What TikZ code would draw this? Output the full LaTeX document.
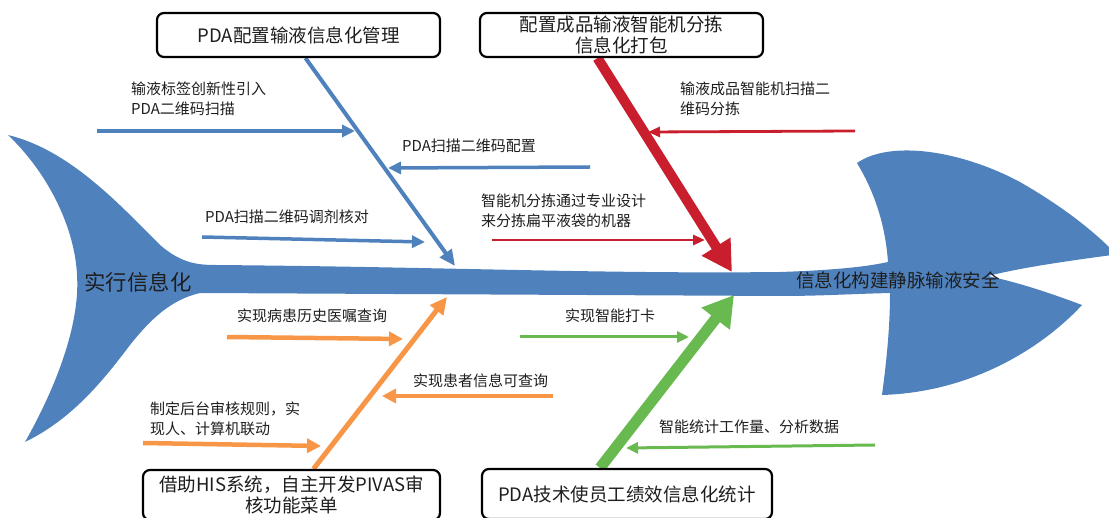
\documentclass[tikz,border=0pt]{standalone}
\usepackage{fontspec}
\setmainfont{Noto Sans CJK SC}
\usetikzlibrary{arrows.meta,backgrounds}
\definecolor{fishblue}{RGB}{79,129,189}
\definecolor{bonered}{RGB}{200,30,46}
\definecolor{boneorange}{RGB}{247,150,70}
\definecolor{bonegreen}{RGB}{104,186,80}
\definecolor{txt}{RGB}{30,30,30}
\begin{document}
\begin{tikzpicture}[x=1pt,y=-1pt,
  box/.style={draw=black, line width=2.2pt, rounded corners=7pt, fill=white, align=center,
    inner sep=0pt, text=txt, font=\fontsize{18.5}{21}\selectfont},
  lbl/.style={anchor=west, align=left, inner sep=0pt, text=txt, font=\fontsize{15}{19.5}\selectfont},
  mainlbl/.style={inner sep=0pt, text=txt},
  bluearr/.style={draw=fishblue, line width=3.5pt, -{Triangle[length=13pt,width=12pt]}},
  bluebone/.style={draw=fishblue, line width=4pt, -{Triangle[length=16pt,width=14pt]}},
  redarr/.style={draw=bonered, line width=2.8pt, -{Triangle[length=12pt,width=10pt]}},
  redbone/.style={draw=bonered, line width=10pt, -{Triangle[length=30pt,width=32pt]}},
  orangearr/.style={draw=boneorange, line width=4.5pt, -{Triangle[length=14pt,width=14pt]}},
  orangebone/.style={draw=boneorange, line width=5pt, -{Triangle[length=17pt,width=16pt]}},
  greenarr/.style={draw=bonegreen, line width=3pt, -{Triangle[length=12pt,width=11pt]}},
  greenbone/.style={draw=bonegreen, line width=11pt, -{Triangle[length=30pt,width=34pt]}}
]
\useasboundingbox (0,0) rectangle (1109,518);

% boxes (main layer, on top of bones)
\node[box, minimum width=283pt, minimum height=44pt] (box1) at (298.5,35) {PDA配置输液信息化管理};
\node[box, minimum width=283pt, minimum height=44pt] (box2) at (621.5,35) {配置成品输液智能机分拣\\信息化打包};
\node[box, minimum width=297pt, minimum height=50pt] (box3) at (291.5,495) {借助HIS系统，自主开发PIVAS审\\核功能菜单};
\node[box, minimum width=290pt, minimum height=50pt] (box4) at (627,494) {PDA技术使员工绩效信息化统计};

% bone coordinates
\coordinate (b1s) at ([xshift=7pt]box1.south);
\coordinate (b1e) at (455,266);
\coordinate (b2s) at ([xshift=-24pt]box2.south);
\coordinate (b2e) at (732,272);
\coordinate (b3s) at ([xshift=22pt]box3.north);
\coordinate (b3e) at (447,297);
\coordinate (b4s) at ([xshift=-27pt]box4.north);
\coordinate (b4e) at (734,295);

\begin{scope}[on background layer]
% fish body
\fill[fishblue] (8,135) .. controls (70,150) and (120,205) .. (160,245)
  .. controls (180,262) and (195,265) .. (215,265)
  .. controls (450,267) and (600,274) .. (780,272)
  .. controls (840,270) and (870,266) .. (888,262)
  .. controls (885,220) and (872,188) .. (857,163)
  .. controls (890,140) and (960,150) .. (1020,182)
  .. controls (1060,205) and (1090,228) .. (1112,250)
  -- (1112,255)
  .. controls (1060,262) and (1020,268) .. (988,276)
  .. controls (1020,283) and (1050,293) .. (1082,305)
  .. controls (1050,340) and (980,392) .. (882,395)
  .. controls (888,350) and (890,320) .. (890,293)
  .. controls (850,294) and (820,296) .. (780,296)
  -- (200,293)
  .. controls (170,300) and (150,320) .. (130,345)
  .. controls (100,385) and (70,420) .. (25,442)
  .. controls (60,380) and (80,320) .. (77,275)
  .. controls (75,230) and (50,175) .. (8,135) -- cycle;
% bones
\draw[bluebone] (b1s) -- (b1e);
\draw[redbone] (b2s) -- (b2e);
\draw[orangebone] (b3s) -- (b3e);
\draw[greenbone] (b4s) -- (b4e);
\end{scope}

\node[mainlbl, font=\fontsize{21.4}{24}\selectfont] (head) at (138,282) {实行信息化};
\node[mainlbl, font=\fontsize{18.5}{22}\selectfont] (goal) at (898,280) {信息化构建静脉输液安全};

% small arrow coordinates
\coordinate (a1s) at (97,131);   \coordinate (a1e) at (355,131);
\coordinate (a2s) at (590,167);  \coordinate (a2e) at (388,168);
\coordinate (a3s) at (202,237);  \coordinate (a3e) at (425,242);
\coordinate (a4s) at (855,131);  \coordinate (a4e) at (648,132);
\coordinate (a5s) at (492,240);  \coordinate (a5e) at (705,240);
\coordinate (a6s) at (227,337);  \coordinate (a6e) at (403,339);
\coordinate (a7s) at (553,396);  \coordinate (a7e) at (382,396);
\coordinate (a8s) at (143,443);  \coordinate (a8e) at (321,446);
\coordinate (a9s) at (520,337);  \coordinate (a9e) at (689,337);
\coordinate (a10s) at (875,445); \coordinate (a10e) at (626,448);

\draw[bluearr] (a1s) -- (a1e);
\draw[bluearr] (a2s) -- (a2e);
\draw[bluearr] (a3s) -- (a3e);
\draw[redarr] (a4s) -- (a4e);
\draw[redarr] (a5s) -- (a5e);
\draw[orangearr] (a6s) -- (a6e);
\draw[orangearr] (a7s) -- (a7e);
\draw[orangearr] (a8s) -- (a8e);
\draw[greenarr] (a9s) -- (a9e);
\draw[greenarr] (a10s) -- (a10e);

% labels
\node[lbl] (l1) at (131,99) {输液标签创新性引入\\PDA二维码扫描};
\node[lbl] (l2) at (402,146) {PDA扫描二维码配置};
\node[lbl] (l3) at (205,217) {PDA扫描二维码调剂核对};
\node[lbl] (l4) at (680,99) {输液成品智能机扫描二\\维码分拣};
\node[lbl] (l5) at (481,211) {智能机分拣通过专业设计\\来分拣扁平液袋的机器};
\node[lbl] (l6) at (237,316) {实现病患历史医嘱查询};
\node[lbl] (l7) at (413,381) {实现患者信息可查询};
\node[lbl] (l8) at (150,419) {制定后台审核规则，实\\现人、计算机联动};
\node[lbl] (l9) at (565,316) {实现智能打卡};
\node[lbl] (l10) at (659,427) {智能统计工作量、分析数据};
\end{tikzpicture}
\end{document}
